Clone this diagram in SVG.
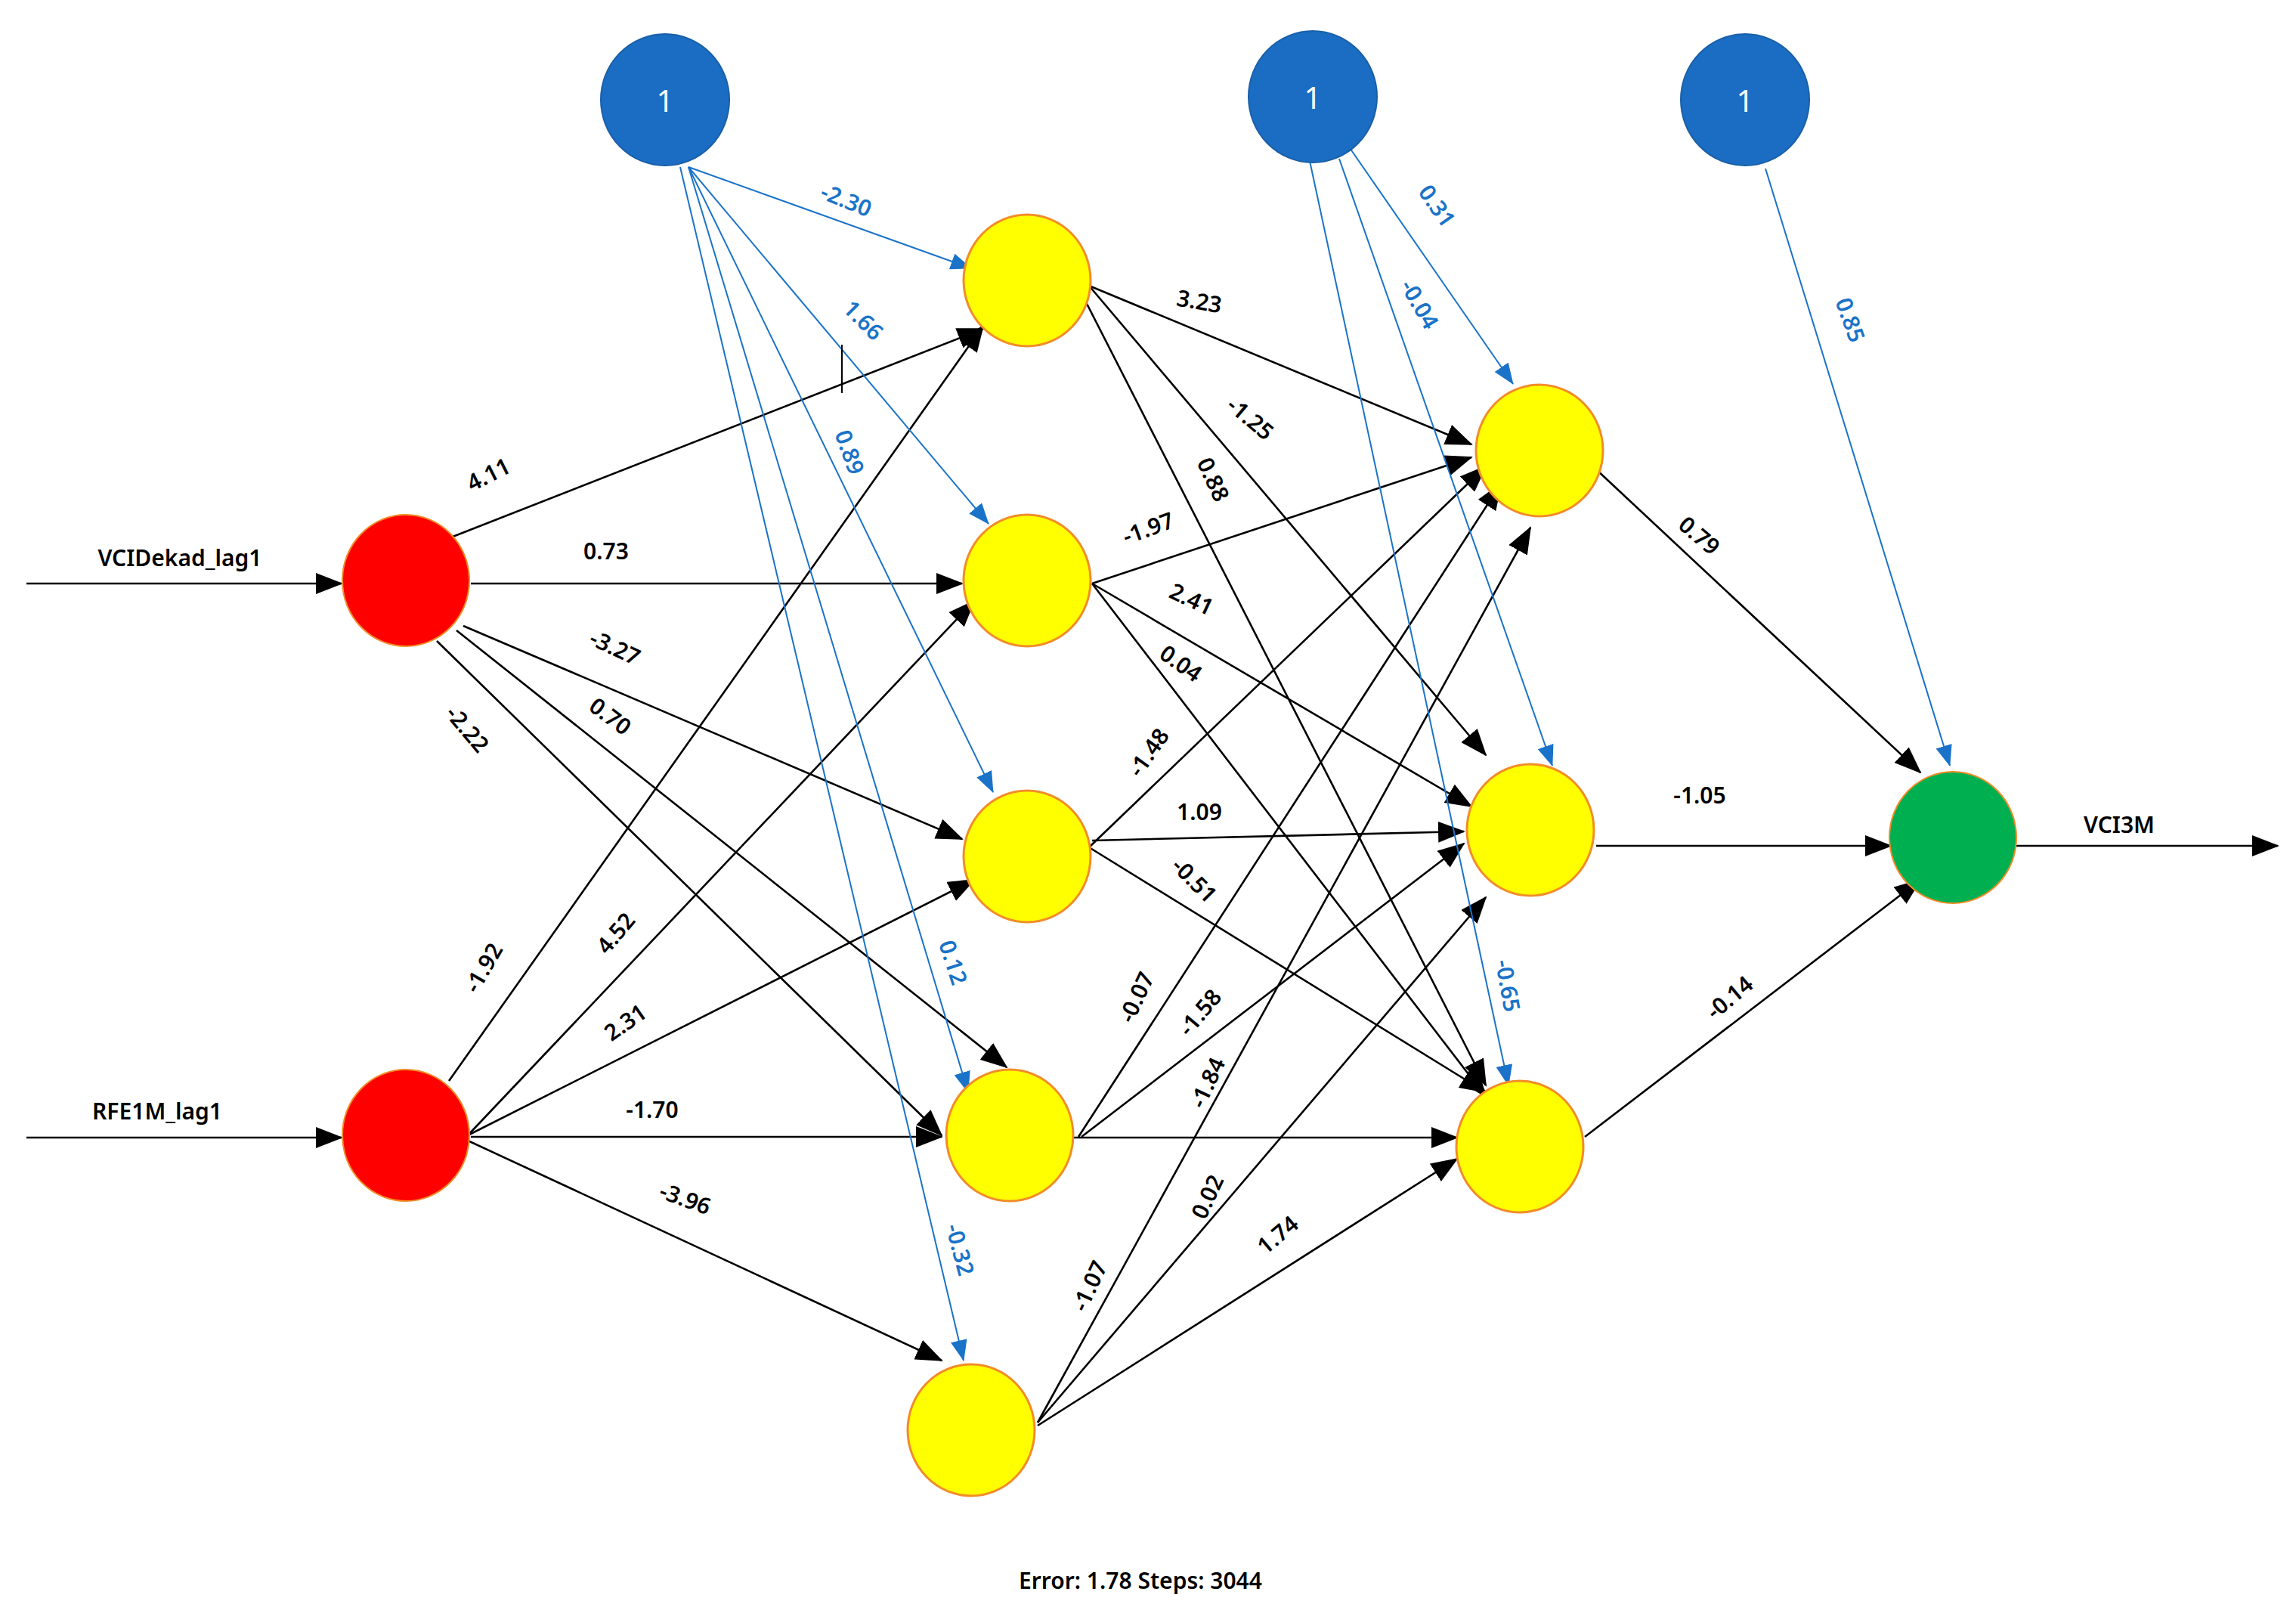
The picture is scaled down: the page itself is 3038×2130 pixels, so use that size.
<svg xmlns="http://www.w3.org/2000/svg" width="3038" height="2130" viewBox="0 0 3038 2130">
<defs>
<marker id="ak" markerUnits="userSpaceOnUse" markerWidth="36" markerHeight="28" refX="34" refY="14" orient="auto"><path d="M0,0 L36,14 L0,28 Z" fill="#000"/></marker>
<marker id="ab" markerUnits="userSpaceOnUse" markerWidth="28" markerHeight="22" refX="27" refY="11" orient="auto"><path d="M0,0 L28,11 L0,22 Z" fill="#1a73c8"/></marker>
</defs>
<style>
.k{stroke:#000;stroke-width:2.6;fill:none;marker-end:url(#ak)}
.b{stroke:#1a73c8;stroke-width:2;fill:none;marker-end:url(#ab)}
text{font-family:"Noto Sans","Liberation Sans",sans-serif;font-size:30px;font-weight:600;text-anchor:middle;dominant-baseline:central}
.tb{fill:#1a73c8}
.bias{fill:#1a6dc2;stroke:#1a5fa8;stroke-width:2}
.inp{fill:#ff0000;stroke:#f28c28;stroke-width:2}
.hid{fill:#ffff00;stroke:#f28c28;stroke-width:3}
.out{fill:#00b050;stroke:#f28c28;stroke-width:2}
.nl{fill:#fff;font-size:40px;font-weight:400}
</style>
<rect width="3038" height="2130" fill="#fff"/>
<g id="connectors">
<line class="k" x1="35" y1="772" x2="452" y2="772"/>
<line class="k" x1="35" y1="1505" x2="452" y2="1505"/>
<line class="k" x1="2667" y1="1119" x2="3014" y2="1119"/>
<line class="k" x1="594" y1="712" x2="1301" y2="435"/>
<line class="k" x1="623" y1="772" x2="1273" y2="772"/>
<line class="k" x1="613" y1="828" x2="1273" y2="1110"/>
<line class="k" x1="604" y1="834" x2="1332" y2="1412"/>
<line class="k" x1="578" y1="848" x2="1246" y2="1502"/>
<line class="k" x1="594" y1="1430" x2="1301" y2="431"/>
<line class="k" x1="619" y1="1502" x2="1289" y2="795"/>
<line class="k" x1="619" y1="1502" x2="1289" y2="1164"/>
<line class="k" x1="623" y1="1504" x2="1246" y2="1504"/>
<line class="k" x1="619" y1="1509" x2="1246" y2="1800"/>
<line class="k" x1="1441" y1="378" x2="1947" y2="588"/>
<line class="k" x1="1441" y1="378" x2="1966" y2="999"/>
<line class="k" x1="1431" y1="388" x2="1966" y2="1436"/>
<line class="k" x1="1445" y1="772" x2="1947" y2="605"/>
<line class="k" x1="1445" y1="772" x2="1947" y2="1067"/>
<line class="k" x1="1445" y1="772" x2="1966" y2="1451"/>
<line class="k" x1="1441" y1="1121" x2="1966" y2="617"/>
<line class="k" x1="1445" y1="1112" x2="1937" y2="1100"/>
<line class="k" x1="1441" y1="1121" x2="1966" y2="1445"/>
<line class="k" x1="1427" y1="1504" x2="1986" y2="640"/>
<line class="k" x1="1431" y1="1504" x2="1937" y2="1116"/>
<line class="k" x1="1421" y1="1505" x2="1928" y2="1505"/>
<line class="k" x1="1373" y1="1882" x2="2025" y2="698"/>
<line class="k" x1="1373" y1="1882" x2="1966" y2="1187"/>
<line class="k" x1="1373" y1="1886" x2="1928" y2="1533"/>
<line class="k" x1="2112" y1="621" x2="2541" y2="1022"/>
<line class="k" x1="2112" y1="1119" x2="2502" y2="1119"/>
<line class="k" x1="2097" y1="1504" x2="2541" y2="1164"/>
<line class="b" x1="911" y1="221" x2="1285" y2="355"/>
<line class="b" x1="911" y1="221" x2="1308" y2="693"/>
<line class="b" x1="911" y1="221" x2="1314" y2="1048"/>
<line class="b" x1="911" y1="221" x2="1281" y2="1445"/>
<line class="b" x1="900" y1="221" x2="1275" y2="1800"/>
<line class="b" x1="1782" y1="190" x2="2002" y2="508"/>
<line class="b" x1="1772" y1="210" x2="2054" y2="1013"/>
<line class="b" x1="1733" y1="213" x2="1996" y2="1436"/>
<line class="b" x1="2336" y1="223" x2="2580" y2="1013"/>
<line x1="1114" y1="456" x2="1114" y2="520" stroke="#000" stroke-width="2"/>
</g>
<g id="labels">
<text x="238" y="737">VCIDekad_lag1</text>
<text x="208" y="1469">RFE1M_lag1</text>
<text x="2804" y="1090">VCI3M</text>
<text x="1509" y="2090">Error: 1.78    Steps: 3044</text>
<text transform="translate(646,627) rotate(-27)">4.11</text>
<text x="802" y="728">0.73</text>
<text transform="translate(814,856) rotate(25)">-3.27</text>
<text transform="translate(808,947) rotate(37)">0.70</text>
<text transform="translate(619,964) rotate(50)">-2.22</text>
<text transform="translate(639,1280) rotate(-60)">-1.92</text>
<text transform="translate(814,1234) rotate(-50)">4.52</text>
<text transform="translate(827,1352) rotate(-35)">2.31</text>
<text x="863" y="1467">-1.70</text>
<text transform="translate(907,1585) rotate(20)">-3.96</text>
<text transform="translate(1587,398) rotate(10)">3.23</text>
<text transform="translate(1655,553) rotate(40)">-1.25</text>
<text transform="translate(1606,634) rotate(65)">0.88</text>
<text transform="translate(1519,698) rotate(-20)">-1.97</text>
<text transform="translate(1577,792) rotate(25)">2.41</text>
<text transform="translate(1563,877) rotate(35)">0.04</text>
<text transform="translate(1519,995) rotate(-55)">-1.48</text>
<text x="1587" y="1073">1.09</text>
<text transform="translate(1581,1164) rotate(45)">-0.51</text>
<text transform="translate(1503,1319) rotate(-65)">-0.07</text>
<text transform="translate(1587,1339) rotate(-50)">-1.58</text>
<text transform="translate(1597,1432) rotate(-65)">-1.84</text>
<text transform="translate(1441,1701) rotate(-65)">-1.07</text>
<text transform="translate(1597,1583) rotate(-65)">0.02</text>
<text transform="translate(1690,1633) rotate(-40)">1.74</text>
<text transform="translate(2249,708) rotate(40)">0.79</text>
<text x="2249" y="1051">-1.05</text>
<text transform="translate(2288,1319) rotate(-40)">-0.14</text>
<text class="tb" transform="translate(1120,264) rotate(22)">-2.30</text>
<text class="tb" transform="translate(1143,423) rotate(45)">1.66</text>
<text class="tb" transform="translate(1125,598) rotate(70)">0.89</text>
<text class="tb" transform="translate(1262,1273) rotate(72)">0.12</text>
<text class="tb" transform="translate(1271,1653) rotate(75)">-0.32</text>
<text class="tb" transform="translate(1902,272) rotate(55)">0.31</text>
<text class="tb" transform="translate(1879,402) rotate(60)">-0.04</text>
<text class="tb" transform="translate(1996,1304) rotate(80)">-0.65</text>
<text class="tb" transform="translate(2449,423) rotate(70)">0.85</text>
</g>
<g id="bias1"><ellipse class="bias" cx="880" cy="132" rx="85" ry="87"/><text class="nl" x="880" y="132">1</text></g>
<g id="bias2"><ellipse class="bias" cx="1737" cy="128" rx="85" ry="87"/><text class="nl" x="1737" y="128">1</text></g>
<g id="bias3"><ellipse class="bias" cx="2309" cy="132" rx="85" ry="87"/><text class="nl" x="2309" y="132">1</text></g>
<g id="in1"><ellipse class="inp" cx="537" cy="768" rx="84" ry="87"/></g>
<g id="in2"><ellipse class="inp" cx="537" cy="1502" rx="84" ry="87"/></g>
<g id="h1"><ellipse class="hid" cx="1359" cy="371" rx="84" ry="87"/></g>
<g id="h2"><ellipse class="hid" cx="1359" cy="768" rx="84" ry="87"/></g>
<g id="h3"><ellipse class="hid" cx="1359" cy="1133" rx="84" ry="87"/></g>
<g id="h4"><ellipse class="hid" cx="1336" cy="1502" rx="84" ry="87"/></g>
<g id="h5"><ellipse class="hid" cx="1285" cy="1892" rx="84" ry="87"/></g>
<g id="g1"><ellipse class="hid" cx="2037" cy="596" rx="84" ry="87"/></g>
<g id="g2"><ellipse class="hid" cx="2025" cy="1098" rx="84" ry="87"/></g>
<g id="g3"><ellipse class="hid" cx="2011" cy="1517" rx="84" ry="87"/></g>
<g id="out"><ellipse class="out" cx="2584" cy="1108" rx="84" ry="87"/></g>
</svg>
